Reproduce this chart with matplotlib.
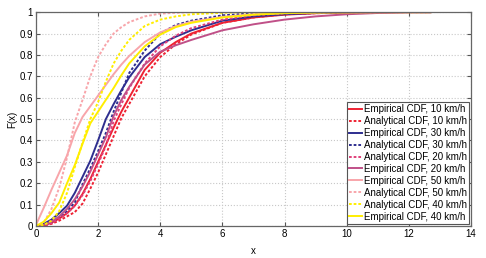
import numpy as np
import matplotlib.pyplot as plt

plt.rcParams['font.family'] = ['Liberation Sans', 'DejaVu Sans']

# common x grid of the CDF curves
x = [0, 0.25, 0.5, 0.75, 1, 1.25, 1.5, 1.75, 2, 2.25, 2.5, 2.75, 3, 3.5, 4, 4.5,
     5, 6, 7, 8, 9, 10, 11, 12, 12.7]

# values
emp_10 = [0, 0.003, 0.015, 0.035, 0.06, 0.095, 0.15, 0.22, 0.30, 0.38, 0.46, 0.535, 0.60,
          0.73, 0.81, 0.86, 0.90, 0.95, 0.975, 0.988, 0.995, 0.998, 0.999, 1, 1]
ana_10 = [0, 0.002, 0.01, 0.025, 0.045, 0.065, 0.105, 0.175, 0.25, 0.335, 0.42, 0.505, 0.57,
          0.70, 0.79, 0.85, 0.895, 0.95, 0.975, 0.99, 0.995, 0.998, 0.999, 1, 1]
emp_30 = [0, 0.01, 0.03, 0.06, 0.095, 0.155, 0.23, 0.305, 0.40, 0.50, 0.57, 0.635, 0.695,
          0.79, 0.85, 0.885, 0.915, 0.96, 0.98, 0.99, 0.996, 0.999, 1, 1, 1]
ana_30 = [0, 0.004, 0.016, 0.04, 0.07, 0.11, 0.195, 0.27, 0.35, 0.435, 0.535, 0.625, 0.715,
          0.82, 0.90, 0.94, 0.96, 0.985, 0.995, 0.998, 1, 1, 1, 1, 1]
ana_20 = [0, 0.003, 0.013, 0.035, 0.06, 0.095, 0.145, 0.21, 0.29, 0.375, 0.49, 0.57, 0.645,
          0.76, 0.84, 0.89, 0.925, 0.965, 0.985, 0.994, 0.998, 0.999, 1, 1, 1]
emp_20 = [0, 0.005, 0.02, 0.045, 0.08, 0.125, 0.185, 0.255, 0.335, 0.415, 0.515, 0.59, 0.65,
          0.755, 0.815, 0.845, 0.87, 0.915, 0.943, 0.965, 0.98, 0.99, 0.996, 1, 1]
emp_50 = [0.005, 0.085, 0.17, 0.25, 0.33, 0.435, 0.51, 0.56, 0.61, 0.66, 0.71, 0.755, 0.795,
          0.86, 0.905, 0.935, 0.955, 0.978, 0.99, 0.996, 0.999, 1, 1, 1, 1]
ana_50 = [0, 0.015, 0.08, 0.18, 0.32, 0.485, 0.59, 0.70, 0.79, 0.85, 0.90, 0.93, 0.953,
          0.98, 0.993, 0.997, 1, 1, 1, 1, 1, 1, 1, 1, 1]
ana_40 = [0, 0.005, 0.025, 0.07, 0.155, 0.275, 0.39, 0.50, 0.58, 0.675, 0.76, 0.82, 0.87,
          0.935, 0.965, 0.98, 0.99, 0.997, 1, 1, 1, 1, 1, 1, 1]
emp_40 = [0, 0.02, 0.06, 0.11, 0.20, 0.285, 0.385, 0.48, 0.535, 0.59, 0.645, 0.705, 0.76,
          0.84, 0.895, 0.93, 0.95, 0.975, 0.988, 0.995, 0.998, 0.999, 1, 1, 1]

red = '#EE2233'
blue = '#2E2E8F'
mag_d = '#E0407A'
mag = '#C05088'
pink = '#F8A5AA'
yellow = '#FFEE00'
dash = (0, (1.4, 1.0))

series = [
    (emp_10, red, '-', 'Empirical CDF, 10 km/h'),
    (ana_10, red, dash, 'Analytical CDF, 10 km/h'),
    (emp_30, blue, '-', 'Empirical CDF, 30 km/h'),
    (ana_30, blue, dash, 'Analytical CDF, 30 km/h'),
    (ana_20, mag_d, dash, 'Analytical CDF, 20 km/h'),
    (emp_20, mag, '-', 'Empirical CDF, 20 km/h'),
    (emp_50, pink, '-', 'Empirical CDF, 50 km/h'),
    (ana_50, pink, dash, 'Analytical CDF, 50 km/h'),
    (ana_40, yellow, dash, 'Analytical CDF, 40 km/h'),
    (emp_40, yellow, '-', 'Empirical CDF, 40 km/h'),
]

fig = plt.figure(figsize=(4.86, 2.58), dpi=100)
ax = fig.add_axes([0.074, 0.124, 0.895, 0.829])

for y, c, ls, lab in series:
    ax.plot(x, y, color=c, linestyle=ls, lw=1.4, label=lab)

ax.set_xlim(0, 14)
ax.set_ylim(0, 1)
ax.set_xticks(np.arange(0, 15, 2))
ax.set_yticks(np.arange(0, 1.01, 0.1))
ax.set_yticklabels(['0', '0.1', '0.2', '0.3', '0.4', '0.5', '0.6', '0.7', '0.8', '0.9', '1'])
ax.grid(True, linestyle=':', color='#c8c8c8', lw=0.8)
ax.tick_params(direction='in', labelsize=7, length=3, color='#555555', pad=2,
               top=True, right=True)
for s in ax.spines.values():
    s.set_color('#666666')
    s.set_linewidth(0.9)
ax.set_xlabel('x', fontsize=7, labelpad=5)
ax.set_ylabel('F(x)', fontsize=7, labelpad=2)

leg = ax.legend(loc='lower right', fontsize=7, handlelength=1.3, handletextpad=0.2,
                labelspacing=0.2, borderpad=0.25, borderaxespad=0.2, fancybox=False,
                framealpha=1, edgecolor='#555555')
leg.get_frame().set_linewidth(0.8)

fig.savefig('out.png', dpi=100)
